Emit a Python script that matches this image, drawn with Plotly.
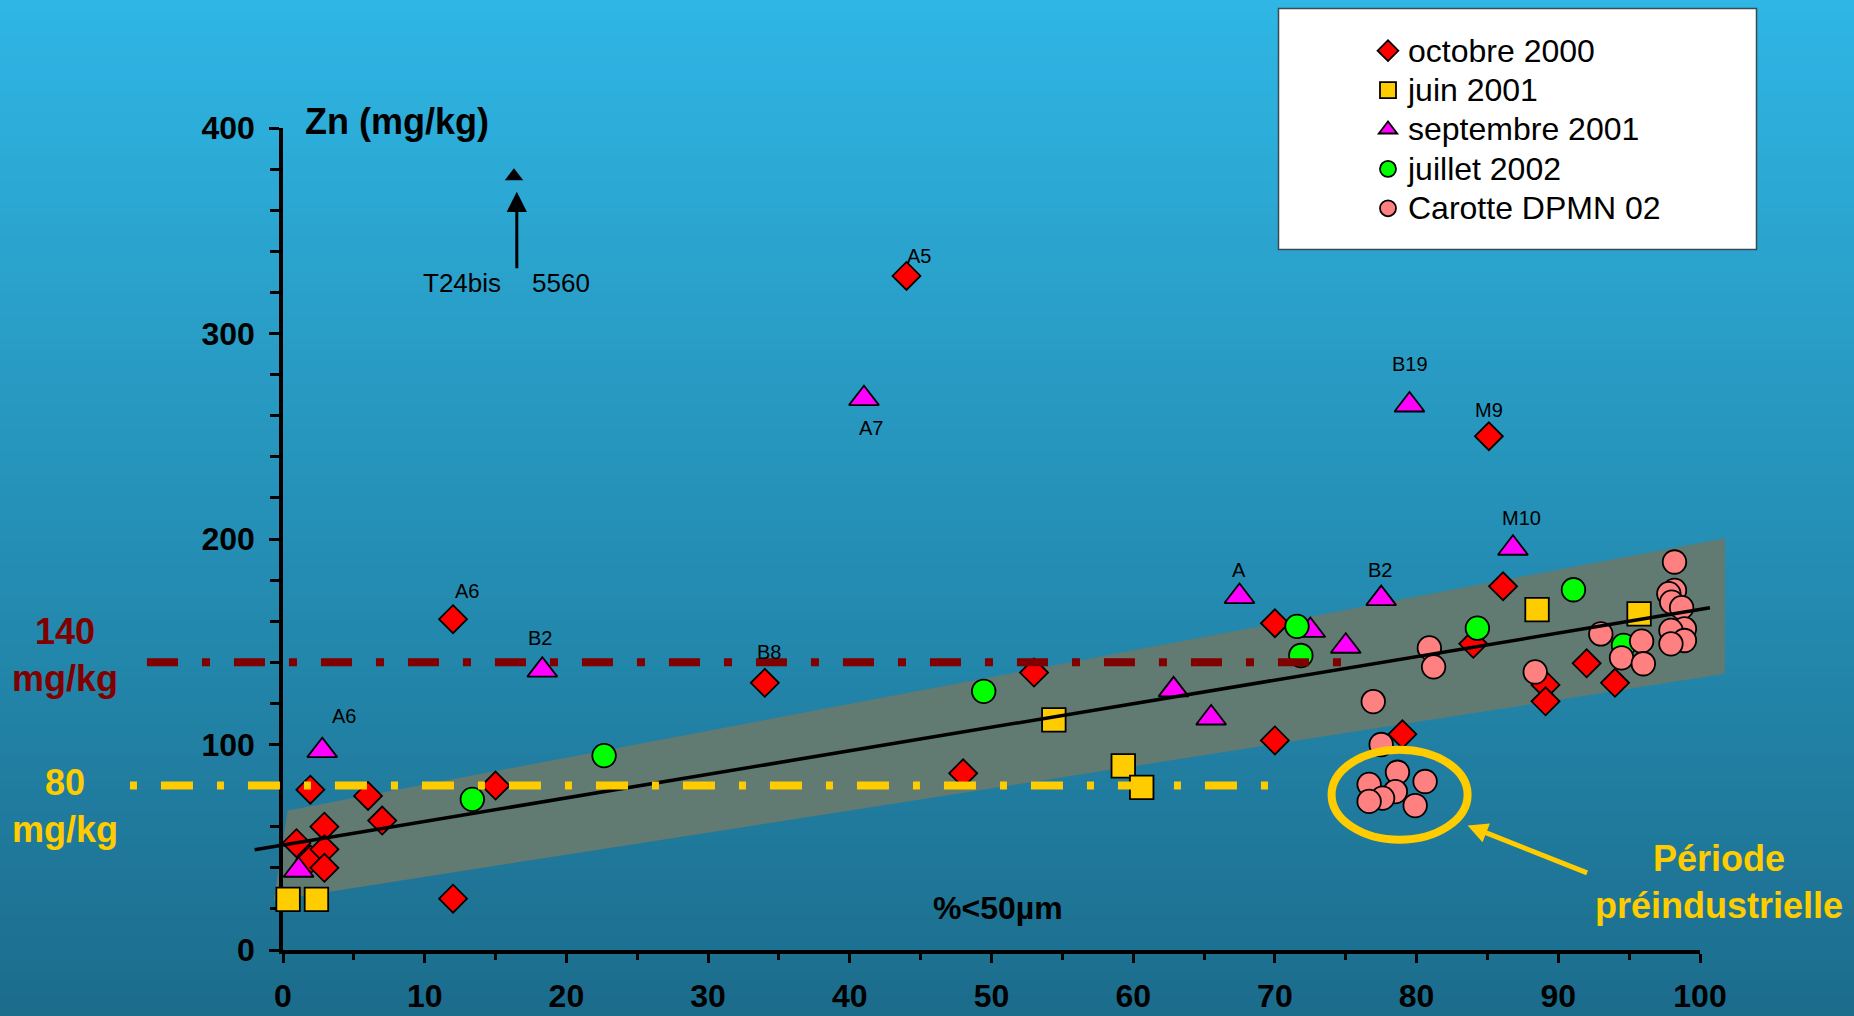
import plotly.graph_objects as go

# ---------------- data ----------------
# octobre 2000
oct2000_x = [0.95, 1.93, 1.93, 2.92, 2.92, 2.92, 6.0, 7.0, 12.0, 12.0, 15.0, 34.0, 44.0,
             48.0, 53.0, 70.0, 70.0, 79.0, 84.0, 85.1, 86.1, 89.1, 89.1, 92.0, 94.0]
oct2000_y = [52, 78, 44, 60, 49, 40, 75, 63, 161, 25, 80, 130, 328,
             86, 135, 159, 102, 105, 149, 250, 177, 129, 121, 139.5, 130]
oct2000_labels = {8: "A6", 11: "B8", 12: "A5", 19: "M9"}

# juin 2001
juin2001_x = [0.36, 2.36, 54.4, 59.3, 60.6, 88.5, 95.7]
juin2001_y = [24.6, 24.6, 112, 89.6, 79.1, 165.6, 163.6]

# septembre 2001
sept2001_x = [1.1, 2.77, 18.3, 41.0, 62.85, 65.5, 67.5, 72.5, 75.0, 77.5, 79.5, 86.8]
sept2001_y = [38.8, 97, 136.2, 268.3, 126.6, 112.9, 172, 155.5, 147.8, 171, 265.2, 195.5]
sept2001_labels = {1: "A6", 2: "B2", 3: "A7", 6: "A", 9: "B2", 10: "B19", 11: "M10"}

# juillet 2002
juil2002_x = [13.36, 22.66, 49.45, 71.56, 71.83, 84.29, 91.07, 94.6]
juil2002_y = [73.3, 94.6, 125.9, 157.5, 143.3, 156.6, 175.3, 148.2]

# Carotte DPMN 02
carotte_x = [80.9, 81.2, 76.94, 77.5, 78.65, 76.65, 80.6, 78.5, 77.6, 76.65, 79.9,
             88.37, 93.0, 94.46, 95.88, 96.0,
             98.2, 98.2, 97.8, 98.0, 98.7, 98.9, 97.95, 98.9, 97.95]
carotte_y = [147.0, 137.8, 120.9, 100.0, 86.5, 80.6, 82.0, 77.1, 73.9, 72.3, 70.3,
             135.3, 153.8, 142.2, 150.3, 139.3,
             188.8, 175.0, 173.4, 169.3, 166.6, 156.3, 155.5, 150.6, 149.0]

# off-scale sample T24bis (Zn = 5560 mg/kg), plotted at the top of the axis
t24_x = 16.3
t24_value = 5560

# regression line and its envelope
trend_x = [-2.0, 100.7]
trend_y = [48.8, 166.5]
band_x = [0.33, 101.76, 101.76, -0.66]
band_y = [67.9, 200.4, 134.4, 24.1]

# guide values
threshold_high = 140
threshold_low = 80

x_ticks = list(range(0, 101, 10))
y_ticks = list(range(0, 401, 100))

# ---------------- geometry ----------------
FIG_W, FIG_H = 1854, 1016
M_L, M_R, M_T, M_B = 283, 154, 128, 66
PLOT_W = FIG_W - M_L - M_R
PLOT_H = FIG_H - M_T - M_B
X_RANGE = (0, 100)
Y_RANGE = (0, 400)


def dx_paper(x):
    return (x - X_RANGE[0]) / (X_RANGE[1] - X_RANGE[0])


def dy_paper(y):
    return (y - Y_RANGE[0]) / (Y_RANGE[1] - Y_RANGE[0])


def px_paper(px):
    return (px - M_L) / PLOT_W


def py_paper(py):
    return (FIG_H - M_B - py) / PLOT_H


FONT = "Liberation Sans, Arial, sans-serif"
OUTLINE = dict(color="black", width=1.8)

fig = go.Figure()


def add_series(name, xs, ys, symbol, color, size):
    fig.add_trace(go.Scatter(
        x=xs, y=ys, mode="markers", cliponaxis=False,
        name='<span style="font-size:32px">%s</span>' % name,
        marker=dict(symbol=symbol, color=color, size=size, line=OUTLINE),
    ))


add_series("octobre 2000", oct2000_x, oct2000_y, "diamond", "#FF0000", 21.5)
add_series("juin 2001", juin2001_x, juin2001_y, "square", "#FFCC00", 23.5)
add_series("septembre 2001", sept2001_x, sept2001_y, "triangle-up", "#FF00FF", 26)
add_series("juillet 2002", juil2002_x, juil2002_y, "circle", "#00FF00", 23.5)
add_series("Carotte DPMN 02", carotte_x, carotte_y, "circle", "#FF8080", 23.5)

# off-scale marker
fig.add_trace(go.Scatter(
    x=[t24_x], y=[Y_RANGE[1] - 23.5], mode="markers", showlegend=False,
    cliponaxis=False, marker=dict(symbol="triangle-up", color="black", size=16),
))

shapes = []

# vertical background gradient
top_rgb = (47, 182, 228)
bot_rgb = (28, 108, 140)
n_strips = 90
for i in range(n_strips):
    t = (i + 0.5) / n_strips
    c = tuple(round(a + (b - a) * t) for a, b in zip(top_rgb, bot_rgb))
    shapes.append(dict(
        type="rect", xref="paper", yref="paper", layer="below",
        x0=px_paper(0), x1=px_paper(FIG_W),
        y0=py_paper(i * FIG_H / n_strips), y1=py_paper((i + 1) * FIG_H / n_strips + 1),
        fillcolor="rgb(%d,%d,%d)" % c, line=dict(width=0),
    ))

# legend frame
shapes.append(dict(
    type="rect", xref="paper", yref="paper", layer="below",
    x0=px_paper(1278.5), x1=px_paper(1756.5), y0=py_paper(249.5), y1=py_paper(8.5),
    fillcolor="white", line=dict(color="#3a4a55", width=1.5),
))

# envelope around the regression line
band_path = "M " + " L ".join(
    "%.5f,%.5f" % (dx_paper(x), dy_paper(y)) for x, y in zip(band_x, band_y)) + " Z"
shapes.append(dict(
    type="path", xref="paper", yref="paper", layer="below", path=band_path,
    fillcolor="rgb(97,122,114)", line=dict(width=0),
))

# regression line
shapes.append(dict(
    type="line", xref="paper", yref="paper", layer="above",
    x0=dx_paper(trend_x[0]), y0=dy_paper(trend_y[0]),
    x1=dx_paper(trend_x[1]), y1=dy_paper(trend_y[1]),
    line=dict(color="black", width=3.5),
))

# guide lines
shapes.append(dict(
    type="line", xref="paper", yref="paper", layer="above",
    x0=dx_paper(-9.6), x1=dx_paper(75.5),
    y0=dy_paper(threshold_high), y1=dy_paper(threshold_high),
    line=dict(color="#800000", width=8, dash="31px,24px,8px,24px"),
))
shapes.append(dict(
    type="line", xref="paper", yref="paper", layer="above",
    x0=dx_paper(-10.8), x1=dx_paper(70.3),
    y0=dy_paper(threshold_low), y1=dy_paper(threshold_low),
    line=dict(color="#FFCC00", width=8, dash="7px,24px,32px,24px"),
))

# pre-industrial cluster outline
shapes.append(dict(
    type="circle", xref="x", yref="y", layer="above",
    x0=74.0, x1=83.6, y0=53.7, y1=97.5,
    line=dict(color="#FFCC00", width=8),
))

annotations = []


def note(px, py, text, size, color, anchor="center"):
    annotations.append(dict(
        x=px_paper(px), y=py_paper(py), xref="paper", yref="paper", text=text,
        showarrow=False, xanchor=anchor, yanchor="middle",
        font=dict(family=FONT, size=size, color=color),
    ))


# sample labels, offsets in px from their marker
label_offsets = {
    ("oct", 8): (14, 28), ("oct", 11): (4, 31), ("oct", 12): (13, 20), ("oct", 19): (0, 26),
    ("sep", 1): (22, 35), ("sep", 2): (-2, 32), ("sep", 3): (7, -29), ("sep", 6): (0, 27),
    ("sep", 9): (-1, 29), ("sep", 10): (0, 41), ("sep", 11): (9, 30),
}
for key, xs, ys, labels in (("oct", oct2000_x, oct2000_y, oct2000_labels),
                            ("sep", sept2001_x, sept2001_y, sept2001_labels)):
    for idx, txt in labels.items():
        ox, oy = label_offsets[(key, idx)]
        annotations.append(dict(
            x=xs[idx], y=ys[idx], xref="x", yref="y", text=txt, showarrow=False,
            xanchor="center", yanchor="middle",
            xshift=ox, yshift=oy, font=dict(family=FONT, size=20, color="black"),
        ))

# off-scale arrow and its labels
annotations.append(dict(
    x=16.5, y=369, xref="x", yref="y", text="", showarrow=True,
    ax=0, ay=78, axref="pixel", ayref="pixel",
    arrowhead=2, arrowsize=1.35, arrowwidth=3, arrowcolor="black", standoff=0,
))
note(462, 283, "T24bis", 26, "black")
note(561, 283, str(t24_value), 26, "black")

# axis titles
note(303, 121, "<b>Zn (mg/kg)</b>", 36, "black", anchor="left")
note(998, 908, "<b>%<50µm</b>", 32, "black")

# guide value labels
note(65, 655, "<b>%d<br>mg/kg</b>" % threshold_high, 36, "#800000")
note(65, 806, "<b>%d<br>mg/kg</b>" % threshold_low, 36, "#FFCC00")

# pre-industrial callout
note(1719, 882, "<b>Période<br>préindustrielle</b>", 36, "#FFCC00")
annotations.append(dict(
    x=83.6, y=60.6, xref="x", yref="y", text="", showarrow=True,
    ax=121, ay=48, axref="pixel", ayref="pixel",
    arrowhead=2, arrowsize=0.8, arrowwidth=5, arrowcolor="#FFCC00", standoff=0,
))

axis_common = dict(
    showgrid=False, zeroline=False, showline=True, linecolor="black", linewidth=3.5,
    ticks="outside", tickcolor="black", tickwidth=3, layer="below traces",
    tickfont=dict(family=FONT, size=32, color="black", weight="bold"),
)

fig.update_layout(
    width=FIG_W, height=FIG_H,
    margin=dict(l=M_L, r=M_R, t=M_T, b=M_B, pad=0, autoexpand=False),
    paper_bgcolor="rgb(38,146,186)", plot_bgcolor="rgba(0,0,0,0)",
    shapes=shapes, annotations=annotations,
    xaxis=dict(range=list(X_RANGE), tickvals=x_ticks, ticklen=9, ticklabelstandoff=6,
               minor=dict(dtick=5, ticks="outside", ticklen=6, tickwidth=3, tickcolor="black"),
               **axis_common),
    yaxis=dict(range=list(Y_RANGE), tickvals=y_ticks, ticklen=10, ticklabelstandoff=8,
               minor=dict(dtick=20, ticks="outside", ticklen=9, tickwidth=3, tickcolor="black"),
               **axis_common),
    legend=dict(
        x=px_paper(1368), y=py_paper(26), xanchor="left", yanchor="top",
        bgcolor="rgba(0,0,0,0)", borderwidth=0, traceorder="normal",
        font=dict(family=FONT, size=28, color="black"),
    ),
    font=dict(family=FONT),
    showlegend=True,
)

fig.write_html("out.html")
